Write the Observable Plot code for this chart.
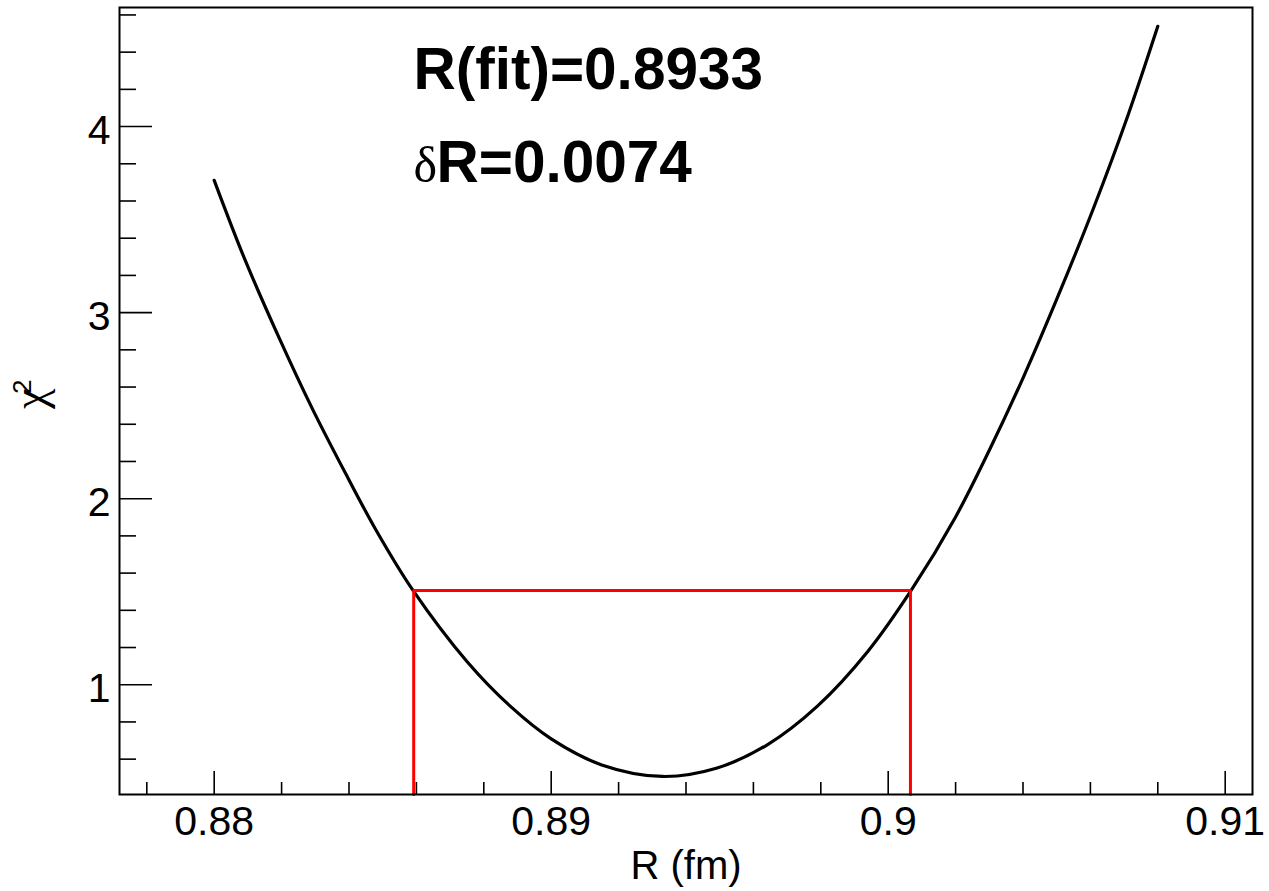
<!DOCTYPE html>
<html>
<head>
<meta charset="utf-8">
<script src="https://cdn.jsdelivr.net/npm/d3@7"></script>
<script src="https://cdn.jsdelivr.net/npm/@observablehq/plot@0.6"></script>
<style>
  html, body { margin: 0; padding: 0; background: #ffffff; }
  #chart svg { display: block; }
</style>
</head>
<body>
<div id="chart"></div>
<script>
// ---- data ----
const radius = [0.8800, 0.8809, 0.8819, 0.8829, 0.8839, 0.8848, 0.8859, 0.8875, 0.8888, 0.8900,
                0.8915, 0.8933, 0.8949, 0.8964, 0.8979, 0.8994, 0.9007, 0.9020, 0.9030, 0.9040,
                0.9051, 0.9061, 0.9071, 0.9080];
const chi2 =   [3.711, 3.290, 2.875, 2.488, 2.135, 1.832, 1.507, 1.125, 0.882, 0.709,
                0.569, 0.507, 0.551, 0.676, 0.885, 1.180, 1.512, 1.902, 2.260, 2.648,
                3.115, 3.565, 4.053, 4.539];

const errLow = 0.88592;      // left edge of the 1-sigma interval
const errHigh = 0.90066;     // right edge of the 1-sigma interval
const chi2Level = 1.507;     // chi2(min) + 1

const fitR = "0.8933";
const deltaR = "0.0074";

const xTicksMajor = [0.88, 0.89, 0.90, 0.91];
const xTickLabels = ["0.88", "0.89", "0.9", "0.91"];
const xTicksMinor = [0.878, 0.882, 0.884, 0.886, 0.888, 0.892, 0.894, 0.896, 0.898,
                     0.902, 0.904, 0.906, 0.908];
const yTicksMajor = [1, 2, 3, 4];
const yTickLabels = ["1", "2", "3", "4"];
const yTicksMinor = [0.6, 0.8, 1.2, 1.4, 1.6, 1.8, 2.2, 2.4, 2.6, 2.8, 3.2, 3.4, 3.6, 3.8,
                     4.2, 4.4, 4.6];

const xTitle = "R (fm)";
const yTitleSymbol = "χ";
const yTitleSup = "2";

// ---- layout ----
const W = 1269, H = 891;
const mL = 119, mR = 17, mT = 7, mB = 97;
const frameW = W - mL - mR, frameH = H - mT - mB;
const xDomain = [0.87719, 0.91081];
const yDomain = [0.41, 4.64];

const curve = radius.map((r, i) => ({r, c: chi2[i]}));
const box = [
  {r: errLow, c: yDomain[0]},
  {r: errLow, c: chi2Level},
  {r: errHigh, c: chi2Level},
  {r: errHigh, c: yDomain[0]}
];

const sans = "'Liberation Sans', Arial, Helvetica, sans-serif";
const serif = "'Liberation Serif', 'DejaVu Serif', serif";

const chart = Plot.plot({
  width: W,
  height: H,
  marginLeft: mL, marginRight: mR, marginTop: mT, marginBottom: mB,
  style: {fontFamily: sans, fontSize: "41px", color: "black", background: "white"},
  x: {domain: xDomain},
  y: {domain: yDomain},
  marks: [
    // ticks drawn inside the frame (ROOT style)
    Plot.tickY(yTicksMajor, {y: d => d, stroke: "black", strokeWidth: 1.6, insetRight: frameW - 33}),
    Plot.tickY(yTicksMinor, {y: d => d, stroke: "black", strokeWidth: 1.6, insetRight: frameW - 17}),
    Plot.tickX(xTicksMajor, {x: d => d, stroke: "black", strokeWidth: 1.6, insetTop: frameH - 23}),
    Plot.tickX(xTicksMinor, {x: d => d, stroke: "black", strokeWidth: 1.6, insetTop: frameH - 12}),
    Plot.axisX({ticks: xTicksMajor, tickSize: 0, tickPadding: 11, label: null,
                tickFormat: d => xTickLabels[xTicksMajor.indexOf(d)], fontSize: 41}),
    Plot.axisY({ticks: yTicksMajor, tickSize: 0, tickPadding: 9, label: null, dy: 4,
                tickFormat: d => yTickLabels[yTicksMajor.indexOf(d)], fontSize: 41}),
    // chi2 curve
    Plot.line(curve, {x: "r", y: "c", curve: "catmull-rom", stroke: "black", strokeWidth: 3.2}),
    // 1-sigma box
    Plot.line(box, {x: "r", y: "c", stroke: "#ff0000", strokeWidth: 3}),
    Plot.frame({stroke: "black", strokeWidth: 2}),
    // axis titles
    Plot.text([xTitle], {text: d => d, frameAnchor: "bottom", dy: 84, lineAnchor: "bottom", fontSize: 40}),
    Plot.text([yTitleSymbol], {text: d => d, frameAnchor: "left", dx: -89, dy: 8, rotate: -90,
              fontSize: 46, fontFamily: serif}),
    Plot.text([yTitleSup], {text: d => d, frameAnchor: "left", dx: -97, dy: -7, rotate: -90,
              fontSize: 26}),
    // annotations
    Plot.text(["R(fit)=" + fitR], {text: d => d, frameAnchor: "top-left", dx: 294, dy: 81,
              lineAnchor: "bottom", textAnchor: "start", fontWeight: "bold", fontSize: 58.5}),
    Plot.text(["δ"], {text: d => d, frameAnchor: "top-left", dx: 294, dy: 174.7,
              lineAnchor: "bottom", textAnchor: "start", fontSize: 50, fontFamily: serif}),
    Plot.text(["R=" + deltaR], {text: d => d, frameAnchor: "top-left", dx: 317, dy: 174.7,
              lineAnchor: "bottom", textAnchor: "start", fontWeight: "bold", fontSize: 58.5})
  ]
});

document.getElementById("chart").appendChild(chart);
</script>
</body>
</html>
